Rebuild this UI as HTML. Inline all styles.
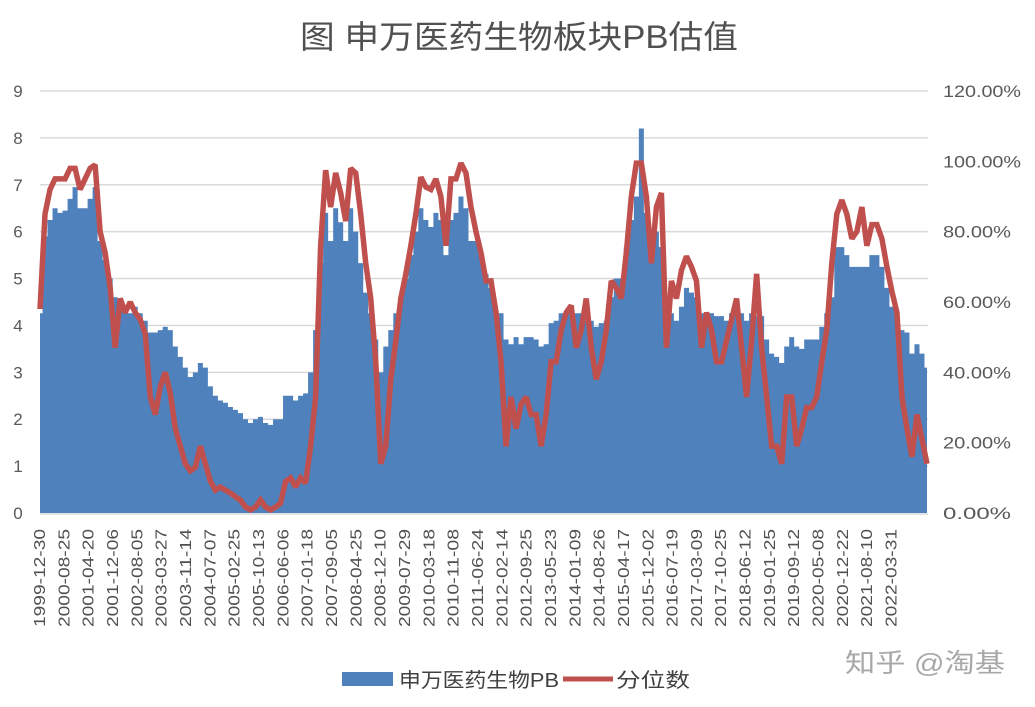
<!DOCTYPE html>
<html><head><meta charset="utf-8"><style>
html,body{margin:0;padding:0;background:#fff;}
svg{display:block;font-family:"Liberation Sans","Noto Sans CJK SC",sans-serif;}
</style></head><body>
<svg id="chart" width="1035" height="707" viewBox="0 0 1035 707" xmlns="http://www.w3.org/2000/svg">
<text x="519" y="48" text-anchor="middle" font-size="32" fill="#505050" font-family="'Liberation Sans','Noto Sans CJK SC',sans-serif" textLength="438" lengthAdjust="spacingAndGlyphs">图  申万医药生物板块PB估值</text>
<g id="grid"></g>
<g id="area"></g>
<g id="line"></g>
<g id="yl"></g>
<g id="yr"></g>
<g id="xl"></g>
<g>
  <rect x="342" y="672" width="51" height="14" fill="#4f81bd"/>
  <text x="399" y="687" font-size="20" fill="#404040" textLength="160" lengthAdjust="spacingAndGlyphs">申万医药生物PB</text>
  <line x1="563" y1="679" x2="613" y2="679" stroke="#c0504d" stroke-width="5"/>
  <text x="616" y="687" font-size="20" fill="#404040" textLength="74" lengthAdjust="spacingAndGlyphs">分位数</text>
</g>
<text x="845" y="672" font-size="26" fill="#a8a8a8" textLength="160" lengthAdjust="spacingAndGlyphs">知乎 @淘基</text>
</svg>
<script>
const pbValues=[4.26,5.9,6.25,6.5,6.4,6.45,6.7,6.95,6.5,6.5,6.7,6.95,5.8,5.4,5.0,4.6,4.4,4.26,4.26,4.4,4.26,4.1,3.85,3.85,3.9,3.97,3.9,3.55,3.33,3.1,2.9,3.0,3.2,3.1,2.7,2.5,2.4,2.35,2.26,2.2,2.13,2.0,1.92,2.0,2.05,1.92,1.88,2.0,2.0,2.5,2.5,2.4,2.5,2.55,3.0,3.9,5.33,6.4,5.8,6.5,6.2,5.8,6.5,6.0,5.33,4.7,4.26,3.7,3.0,3.55,3.9,4.26,4.6,5.0,5.5,6.0,6.5,6.25,6.1,6.4,6.25,5.5,6.25,6.4,6.75,6.5,5.8,5.8,5.5,5.1,4.8,4.33,4.26,3.7,3.6,3.75,3.6,3.75,3.75,3.7,3.55,3.6,4.05,4.1,4.26,4.26,4.4,4.26,4.26,4.1,4.1,3.97,4.05,4.1,4.6,5.0,5.0,5.67,6.25,6.75,8.2,6.4,5.33,6.0,5.67,4.6,4.26,4.1,4.4,4.8,4.7,4.6,4.26,4.05,4.26,4.2,4.2,4.1,4.26,4.26,4.26,4.1,4.26,4.2,4.2,3.7,3.4,3.33,3.2,3.55,3.75,3.55,3.5,3.7,3.7,3.7,3.97,4.26,4.6,5.67,5.67,5.5,5.25,5.25,5.25,5.25,5.5,5.5,5.25,4.8,4.4,4.26,3.9,3.85,3.4,3.6,3.4,3.1];
const pctValues=[58,85,92,95,95,95,98,98,92,95,98,99,80,74,64,47,61,57,60,57,55,51,33,28,36,40,34,24,19,14,12,13,19,14,9,6.5,7.4,6.5,5.7,4.6,3.7,1.7,0.9,1.7,3.7,1.7,0.9,1.7,2.8,9,10,7.4,10,8.5,19,33,76,97.5,87,96.7,91,83,98,96.7,85,71,61,43,14,19,38,49,61,68,76,85,95.5,92.7,92,95,90,76,95,95,99.5,96.7,87,80,74,66,66,57,43,19,33,24,31,33,28,28,19,28,43,43,52,57,59,47,52,61,47,38,43,52,66,64,61,74,90,99.5,99.5,90,71,87,91,47,66,61,69,73,70,66,47,57,52,43,43,49,55,61,47,33,49,68,47,33,19,19,14,33,33,19,24,30,30,33,43,52,71,85,89,85,78,80,87,76,82,82,78,70,63,57,33,24,16,28,21,14];
const xTickLabels=["1999-12-30","2000-08-25","2001-04-20","2001-12-06","2002-08-05","2003-03-27","2003-11-14","2004-07-07","2005-02-25","2005-10-13","2006-06-06","2007-01-18","2007-09-05","2008-04-25","2008-12-10","2009-07-29","2010-03-18","2010-11-08","2011-06-24","2012-02-14","2012-09-25","2013-05-23","2014-01-09","2014-08-26","2015-04-17","2015-12-02","2016-07-19","2017-03-09","2017-10-25","2018-06-12","2019-01-25","2019-09-12","2020-05-08","2020-12-22","2021-08-10","2022-03-31"];
const leftTicks=[0,1,2,3,4,5,6,7,8,9];
const rightTicks=[0,20,40,60,80,100,120];

const NS="http://www.w3.org/2000/svg";
const X0=40,X1=927,Y0=513,Y1=91;
const n=pbValues.length;
const xs=i=>X0+(X1-X0)*i/(n-1);
const yL=v=>Y0-(Y0-Y1)*v/9;
const yR=v=>Y0-(Y0-Y1)*v/120;
function mk(tag,attrs,parent){const e=document.createElementNS(NS,tag);for(const k in attrs)e.setAttribute(k,attrs[k]);parent.appendChild(e);return e;}
const grid=document.getElementById('grid');
leftTicks.forEach(t=>{if(t===0)return;const l=mk('line',{x1:X0,x2:928,y1:yL(t),y2:yL(t),stroke:'#d9d9d9','stroke-width':1.5},grid);

});
let d=`M${xs(0)},${Y0}`;
pbValues.forEach((v,i)=>{const xa=xs(Math.max(0,i-0.5)),xb=xs(Math.min(n-1,i+0.5));d+=` L${xa},${yL(v)} L${xb},${yL(v)}`;});
d+=` L${xs(n-1)},${Y0} Z`;
const ar=mk('path',{d:d,fill:'#4f81bd'},document.getElementById('area'));


const ax=mk('line',{x1:X0,x2:928,y1:Y0+1,y2:Y0+1,stroke:'#d9d9d9','stroke-width':1.5},grid.parentNode);


const pts=pctValues.map((v,i)=>`${xs(i)},${yR(v)}`).join(' ');
const pl=mk('polyline',{points:pts,fill:'none',stroke:'#c0504d','stroke-width':5.5,'stroke-linejoin':'miter','stroke-miterlimit':2},document.getElementById('line'));


const yl=document.getElementById('yl');
leftTicks.forEach(t=>{const e=mk('text',{x:18,y:yL(t)+6,'text-anchor':'middle','font-size':17,fill:'#595959'},yl);e.textContent=t;

});
const yr=document.getElementById('yr');
rightTicks.forEach(t=>{const e=mk('text',{x:943,y:yR(t)+6,'font-size':17,fill:'#595959',textLength:t>=100?78:68,lengthAdjust:'spacingAndGlyphs'},yr);e.textContent=t.toFixed(2)+'%';

});
const xl=document.getElementById('xl');
xTickLabels.forEach((s,k)=>{const x=39+k*24.33;const e=mk('text',{x:0,y:0,'text-anchor':'end','font-size':16,fill:'#505050',textLength:98,lengthAdjust:'spacingAndGlyphs',transform:`translate(${x+6},${529}) rotate(-90)`},xl);e.textContent=s;

});
</script>
</body></html>
